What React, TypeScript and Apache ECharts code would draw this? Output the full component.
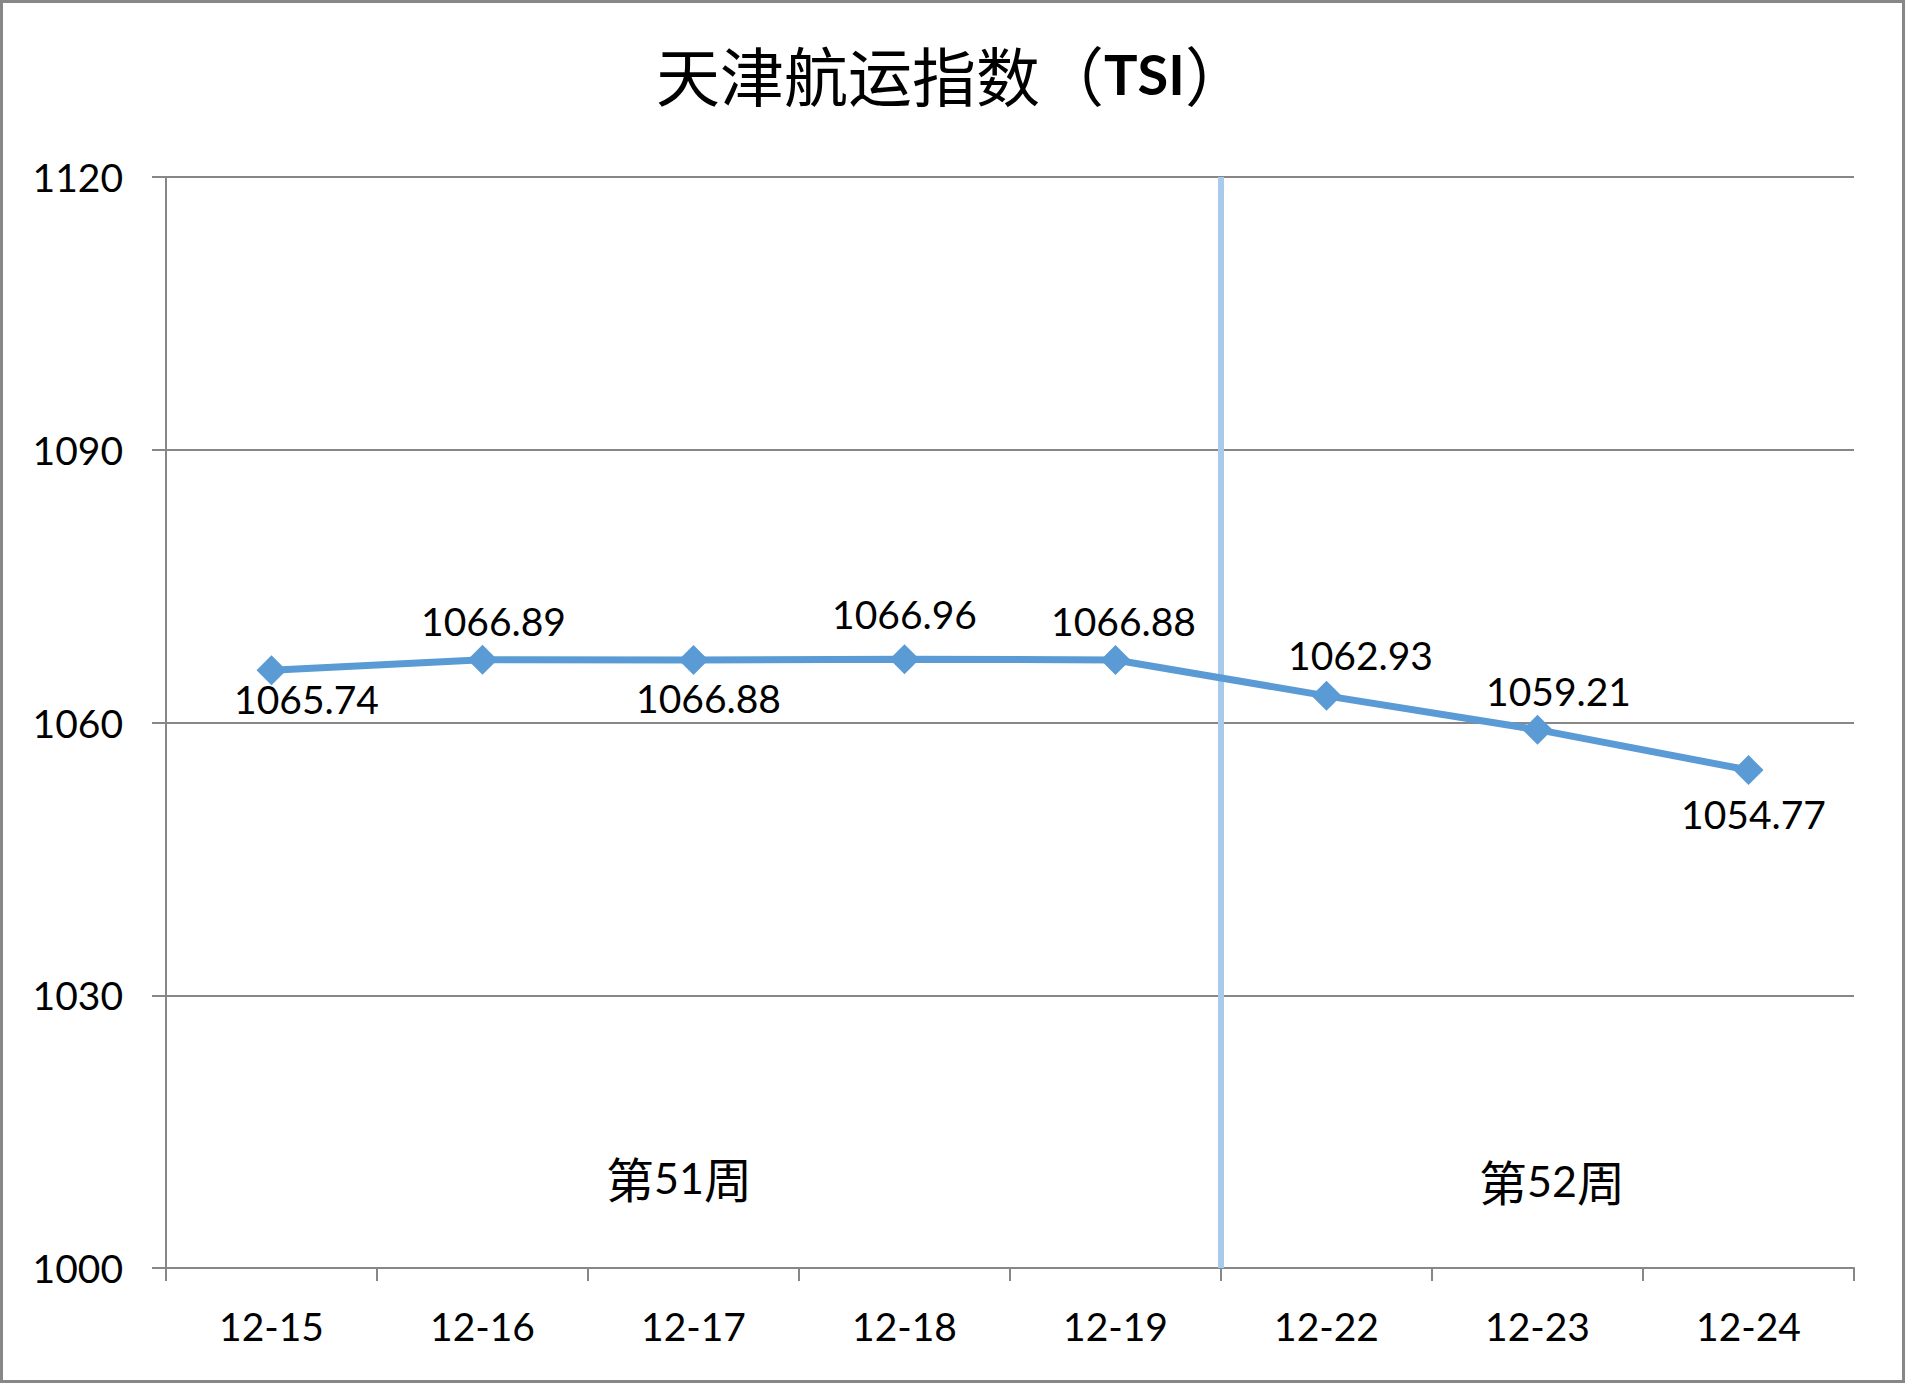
import React, { useEffect, useRef } from 'react'
import * as echarts from 'echarts'

// 交易日
const dates = ['12-15', '12-16', '12-17', '12-18', '12-19', '12-22', '12-23', '12-24']
// 天津航运指数 TSI
const tsiValues = [1065.74, 1066.89, 1066.88, 1066.96, 1066.88, 1062.93, 1059.21, 1054.77]
// 周次，以及每周包含的交易日数
const weekNumbers = [51, 52]
const weekDays = [5, 3]
// y 轴刻度
const yMin = 1000
const yMax = 1120
const yStep = 30

// 数据标签相对点的偏移 (px)
const labelOffsets = [
  [35, 29], [11, -39], [15, 38], [0, -45], [8, -39], [34, -41], [21, -39], [5, 44]
]

const AXIS_COLOR = '#878787'
const LINE_COLOR = '#5B9BD5'
const DIVIDER_COLOR = '#A9CBEB'
const NUM_FONT = 'Lato, "Open Sans", sans-serif'
const CJK_FONT = '"Noto Sans CJK SC", sans-serif'

const App: React.FC = () => {
  const chartRef = useRef<HTMLDivElement>(null)

  useEffect(() => {
    if (!chartRef.current) return
    const chart = echarts.init(chartRef.current, null, { renderer: 'svg' })

    const boundary = weekDays[0]
    const weekCenters = [679, 1552]
    const weekY = [1177, 1180]

    const option = {
      animation: false,
      backgroundColor: '#fff',
      title: {
        text: '{a|天津航运指数（}{b|TSI}{a|）}',
        left: 'center',
        top: 36,
        textStyle: {
          rich: {
            a: { fontFamily: CJK_FONT, fontWeight: 'normal', fontSize: 64, color: '#000', lineHeight: 64 },
            b: { fontFamily: NUM_FONT, fontWeight: 'bold', fontSize: 56, color: '#000', lineHeight: 64 }
          }
        }
      },
      grid: { left: 166, right: 51, top: 177, bottom: 115 },
      xAxis: [
        {
          type: 'category',
          data: dates,
          boundaryGap: true,
          axisLine: { lineStyle: { color: AXIS_COLOR, width: 2 } },
          axisTick: { show: true, length: 13, lineStyle: { color: AXIS_COLOR, width: 2 } },
          axisLabel: { color: '#000', fontFamily: NUM_FONT, fontSize: 39, margin: 38 },
          splitLine: { show: false }
        },
        {
          type: 'value',
          min: 0,
          max: dates.length,
          show: false
        }
      ],
      yAxis: {
        type: 'value',
        min: yMin,
        max: yMax,
        interval: yStep,
        axisLine: { show: true, lineStyle: { color: AXIS_COLOR, width: 2 } },
        axisTick: { show: true, length: 14, lineStyle: { color: AXIS_COLOR, width: 2 } },
        axisLabel: {
          color: '#000',
          fontFamily: NUM_FONT,
          fontSize: 39,
          margin: 43,
          formatter: (v: number) => String(v)
        },
        splitLine: { show: true, lineStyle: { color: AXIS_COLOR, width: 2 } }
      },
      series: [
        {
          // 周分隔线
          type: 'line',
          xAxisIndex: 1,
          data: [[boundary, yMin], [boundary, yMax]],
          symbol: 'none',
          lineStyle: { color: DIVIDER_COLOR, width: 6 },
          silent: true,
          z: 1
        },
        {
          name: 'TSI',
          type: 'line',
          data: tsiValues.map((v, i) => ({
            value: v,
            label: { offset: labelOffsets[i] }
          })),
          symbol: 'diamond',
          symbolSize: 30,
          itemStyle: { color: LINE_COLOR },
          lineStyle: { color: LINE_COLOR, width: 7 },
          label: {
            show: true,
            position: 'inside',
            color: '#000',
            fontFamily: NUM_FONT,
            fontSize: 39,
            formatter: (p: any) => p.value.toFixed(2)
          },
          z: 3
        }
      ],
      graphic: [
        {
          type: 'rect',
          shape: { x: 1.5, y: 1.5, width: 1902, height: 1380 },
          style: { fill: 'none', stroke: AXIS_COLOR, lineWidth: 3 },
          silent: true
        },
        ...weekNumbers.map((n, i) => ({
          type: 'text',
          x: weekCenters[i],
          y: weekY[i],
          style: {
            text: `{c|第}{d|${n}}{c|周}`,
            align: 'center',
            verticalAlign: 'middle',
            rich: {
              c: { fontFamily: CJK_FONT, fontSize: 48, fill: '#000' },
              d: { fontFamily: NUM_FONT, fontSize: 43, fill: '#000' }
            }
          },
          silent: true
        }))
      ]
    }

    chart.setOption(option)
    return () => {
      chart.dispose()
    }
  }, [])

  return (
    <div
      ref={chartRef}
      style={{ position: 'absolute', left: 0, top: 0, width: '1905px', height: '1383px' }}
    />
  )
}

export default App
